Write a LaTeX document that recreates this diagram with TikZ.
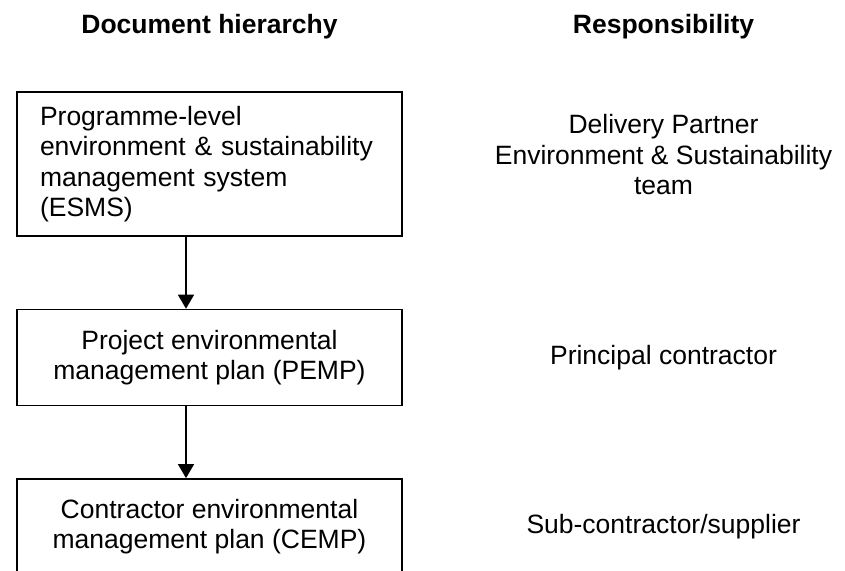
\documentclass[tikz,border=0pt]{standalone}
\usepackage{fontspec}
\setmainfont{Liberation Sans}
\usetikzlibrary{positioning,arrows.meta}

\begin{document}
\begin{tikzpicture}[x=0.5pt, y=-0.5pt, node distance=36pt,
  font=\fontsize{13.25pt}{15.25pt}\selectfont,
  doc node/.style={draw, line width=0.7pt, minimum width=192.5pt, minimum height=48pt, inner xsep=11.5pt, align=center},
  resp node/.style={align=center},
  head node/.style={font=\fontsize{13.25pt}{15.25pt}\selectfont\bfseries},
  down/.style={-{Triangle[length=7pt,width=8pt]}, line width=0.7pt}]
\useasboundingbox (0,0) rectangle (845,570);
\clip (0,0) rectangle (845,570);

\node[doc node, minimum height=72pt, text width=169.5pt, align=left] (esms) at (209.5,164) {Programme-level\\environment \& sustainability\\management system\\(ESMS)};
\node[doc node, below=of esms] (pemp) {Project environmental\\management plan (PEMP)};
\node[doc node, below=of pemp] (cemp) {Contractor environmental\\management plan (CEMP)};

\node[head node, above=29pt of esms.north, anchor=base] (hierarchy) {Document hierarchy};
\node[head node, right of=hierarchy, node distance=227pt] (responsibility) {Responsibility};

\node[resp node, right of=esms, node distance=227pt, yshift=4.5pt] (dp) {Delivery Partner\\Environment \& Sustainability\\team};
\node[resp node, right of=pemp, node distance=227pt] (pc) {Principal contractor};
\node[resp node, right of=cemp, node distance=227pt] (sub) {Sub-contractor/supplier};

\draw[down] ([xshift=-11.75pt]esms.south) -- ([xshift=-11.75pt]pemp.north);
\draw[down] ([xshift=-11.75pt]pemp.south) -- ([xshift=-11.75pt]cemp.north);
\end{tikzpicture}
\end{document}
